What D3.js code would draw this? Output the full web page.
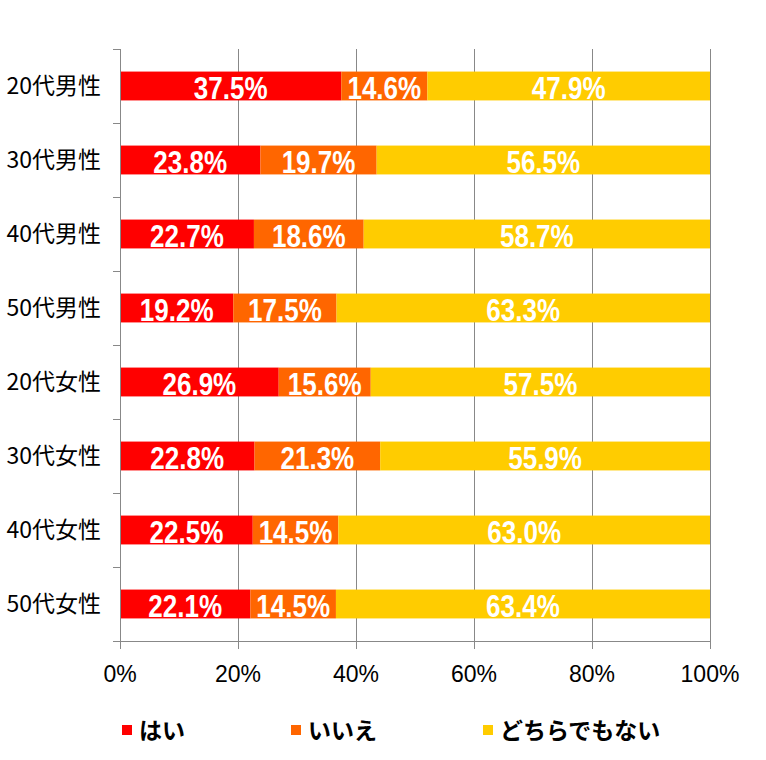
<!DOCTYPE html>
<html><head><meta charset="utf-8">
<script src="https://cdn.jsdelivr.net/npm/d3@7"></script>
<style>body{margin:0;background:#fff}svg{display:block}</style>
</head><body>
<script>
const categories = ["20代男性","30代男性","40代男性","50代男性","20代女性","30代女性","40代女性","50代女性"];
const seriesNames = ["はい","いいえ","どちらでもない"];
const yes     = [37.5, 23.8, 22.7, 19.2, 26.9, 22.8, 22.5, 22.1];
const no      = [14.6, 19.7, 18.6, 17.5, 15.6, 21.3, 14.5, 14.5];
const neither = [47.9, 56.5, 58.7, 63.3, 57.5, 55.9, 63.0, 63.4];
const tickValues = [0, 20, 40, 60, 80, 100];
const tickLabels = ["0%","20%","40%","60%","80%","100%"];
const colors = ["#FF0000","#FF6600","#FFCC00"];

(function(){
const W = 766, H = 760;
const pL = 120, pR = 710, pT = 49, pB = 641;
const svg = d3.select("body").append("svg").attr("width", W).attr("height", H);

const x = d3.scaleLinear().domain([0,100]).range([pL,pR]);
const y = d3.scaleBand().domain(categories).range([pT,pB]).paddingInner(0.61).paddingOuter(0.305);
const yb = d3.scaleBand().domain(categories).range([pT,pB]);

// gridlines
svg.append("g").selectAll("line").data(tickValues.slice(1)).join("line")
  .attr("x1", d=>x(d)+0.5).attr("x2", d=>x(d)+0.5)
  .attr("y1", pT).attr("y2", pB)
  .attr("stroke", "#888").attr("stroke-width", 1);

const stackData = categories.map((c,i)=>({cat:c, s0:yes[i], s1:no[i], s2:neither[i]}));
const stacked = d3.stack().keys(["s0","s1","s2"])(stackData);

const g = svg.append("g");
stacked.forEach((layer, k) => {
  g.append("g").selectAll("rect").data(layer).join("rect")
    .attr("x", d=>x(d[0])).attr("width", d=>x(d[1])-x(d[0]))
    .attr("y", d=>y(d.data.cat)).attr("height", y.bandwidth())
    .attr("fill", colors[k]);
});
stacked.forEach((layer, k) => {
  g.append("g").selectAll("text").data(layer).join("text")
    .attr("transform", d=>`translate(${(x(d[0])+x(d[1]))/2},${y(d.data.cat)+y.bandwidth()/2+13}) scale(0.84,1)`)
    .attr("text-anchor","middle")
    .attr("font-family","'Liberation Sans',Arial,sans-serif")
    .attr("font-weight","bold").attr("font-size", 31).attr("fill","#fff")
    .text(d=>(d[1]-d[0]).toFixed(1)+"%");
});

// left axis
const ax = svg.append("g").attr("stroke","#888").attr("stroke-width",1);
ax.append("line").attr("x1",pL+0.5).attr("x2",pL+0.5).attr("y1",pT).attr("y2",pB);
const bounds = categories.map(c=>yb(c)).concat([pB]);
ax.selectAll(".lt").data(bounds).join("line").attr("class","lt")
  .attr("x1",pL-7).attr("x2",pL).attr("y1",d=>d+0.5).attr("y2",d=>d+0.5);
// bottom axis
ax.append("line").attr("x1",pL-7).attr("x2",pR+1).attr("y1",pB+0.5).attr("y2",pB+0.5);
ax.selectAll(".bt").data(tickValues).join("line").attr("class","bt")
  .attr("x1",d=>x(d)+0.5).attr("x2",d=>x(d)+0.5).attr("y1",pB).attr("y2",pB+8);

svg.append("g").selectAll("text").data(tickValues).join("text")
  .attr("x", d=>x(d)).attr("y", 682).attr("text-anchor","middle")
  .attr("font-family","'Liberation Sans',Arial,sans-serif").attr("font-size",23).attr("fill","#000")
  .text((d,i)=>tickLabels[i]);

svg.append("g").selectAll("text").data(categories).join("text")
  .attr("x", 101).attr("y", d=>y(d)+y.bandwidth()/2+8).attr("text-anchor","end")
  .attr("font-family","'Noto Sans CJK JP',sans-serif").attr("font-size",23).attr("fill","#000")
  .text(d=>d);

// legend
const legX = [122, 291, 483];
const leg = svg.append("g").selectAll("g").data(seriesNames).join("g")
  .attr("transform",(d,i)=>`translate(${legX[i]},730)`);
leg.append("rect").attr("x",0).attr("y",-5).attr("width",10).attr("height",10).attr("fill",(d,i)=>colors[i]);
leg.append("text").attr("x",17).attr("y",9)
  .attr("font-family","'Noto Sans CJK JP',sans-serif").attr("font-size",23).attr("font-weight","bold").attr("fill","#000")
  .text(d=>d);
})();
</script>
</body></html>
